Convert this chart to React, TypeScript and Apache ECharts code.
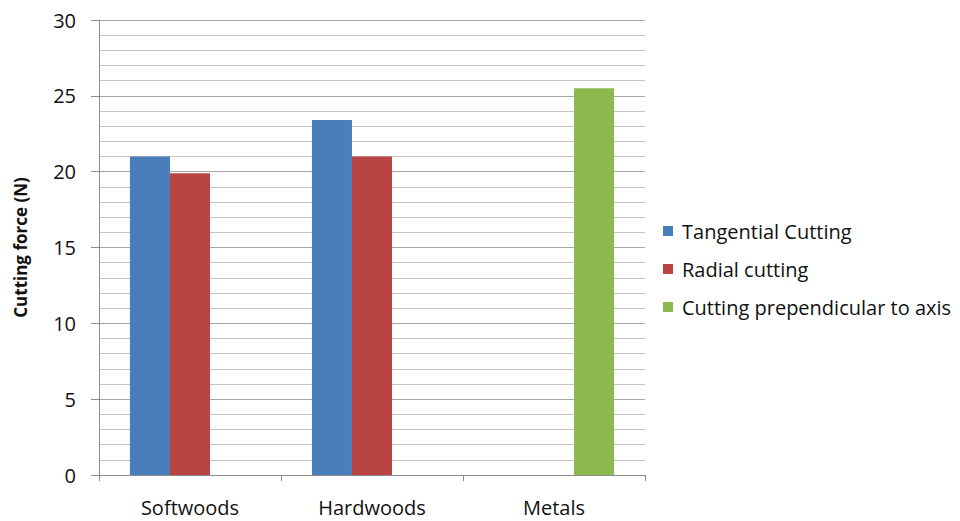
import React, { useEffect, useRef } from "react";
import * as echarts from "echarts";

const categories = ["Softwoods", "Hardwoods", "Metals"];
const seriesNames = ["Tangential Cutting", "Radial cutting", "Cutting prependicular to axis"];
const tangential = [21, 23.4, null];
const radial = [19.9, 21, null];
const perpendicular = [null, null, 25.5];
const colors = ["#4a7ebb", "#b94441", "#8db84f"];

export default function App() {
  const ref = useRef<HTMLDivElement>(null);
  useEffect(() => {
    const chart = echarts.init(ref.current!, null, { renderer: "svg" });
    const font = "'Open Sans', sans-serif";
    const data = [tangential, radial, perpendicular];
    chart.setOption({
      animation: false,
      grid: { left: 99, right: 315, top: 20, bottom: 46 },
      legend: {
        orient: "vertical",
        left: 658,
        top: 216,
        itemWidth: 10,
        itemHeight: 10,
        itemGap: 18,
        icon: "rect",
        textStyle: { fontSize: 20, color: "#111", fontFamily: font, padding: [0, 0, 0, 4] },
        data: seriesNames,
      },
      xAxis: {
        type: "category",
        data: categories,
        axisLine: { lineStyle: { color: "#8c8c8c" } },
        axisTick: { show: true, length: 6, lineStyle: { color: "#8c8c8c" } },
        axisLabel: { fontSize: 20, color: "#111", fontFamily: font, margin: 22 },
      },
      yAxis: {
        type: "value",
        min: 0,
        max: 30,
        interval: 5,
        name: "Cutting force (N)",
        nameLocation: "middle",
        nameGap: 70,
        nameTextStyle: { fontSize: 17, fontWeight: "bold", color: "#111", fontFamily: font },
        axisLine: { show: true, lineStyle: { color: "#8c8c8c" } },
        axisTick: { show: true, length: 8, lineStyle: { color: "#8c8c8c" } },
        axisLabel: { fontSize: 20, color: "#111", fontFamily: font, margin: 23 },
        splitLine: { show: true, lineStyle: { color: "#a8a8a8" } },
        minorTick: { show: false, splitNumber: 5 },
        minorSplitLine: { show: true, lineStyle: { color: "#c4c4c4" } },
      },
      series: seriesNames.map((name, i) => ({
        name,
        type: "bar",
        data: data[i],
        barGap: "0%",
        barCategoryGap: "34%",
        itemStyle: { color: colors[i] },
      })),
    });
    return () => chart.dispose();
  }, []);
  return <div ref={ref} style={{ width: 960, height: 521, position: "absolute", left: 0, top: 0 }} />;
}
